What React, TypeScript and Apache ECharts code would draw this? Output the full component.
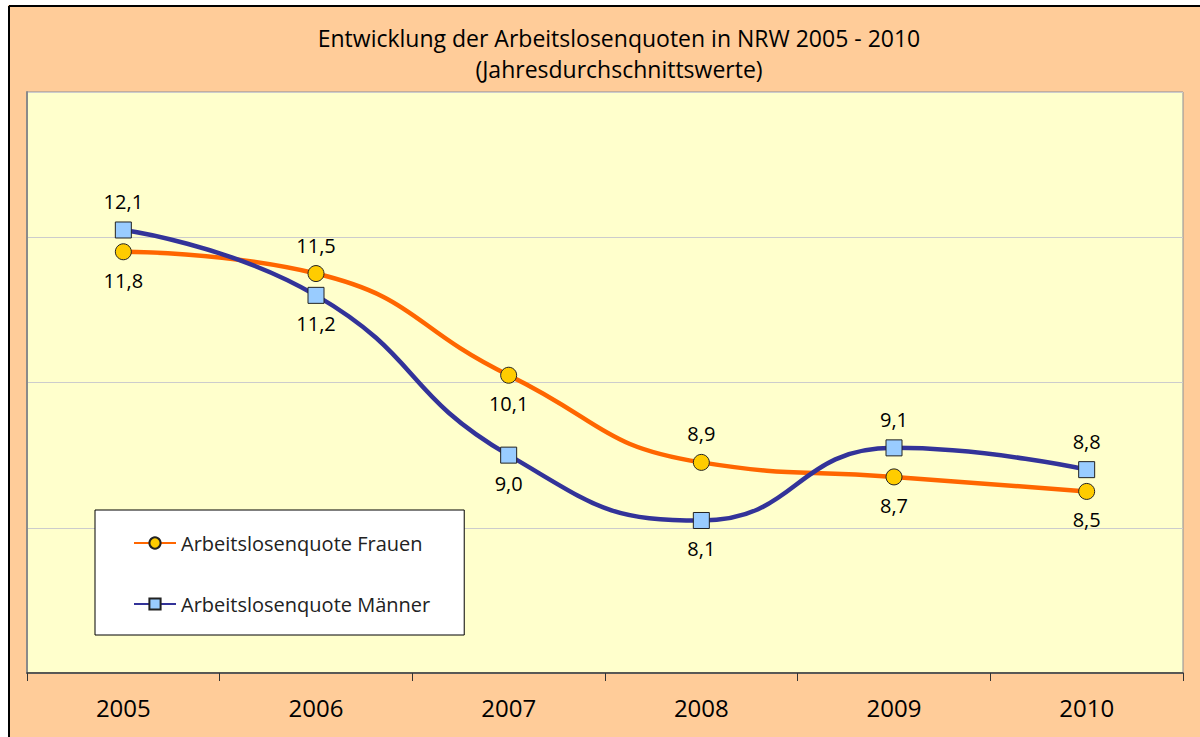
import React, { useEffect, useRef } from "react";
import * as echarts from "echarts";

const years = ["2005", "2006", "2007", "2008", "2009", "2010"];
const frauen = [11.8, 11.5, 10.1, 8.9, 8.7, 8.5];
const maenner = [12.1, 11.2, 9.0, 8.1, 9.1, 8.8];
const frauenLabelPos = ["bottom", "top", "bottom", "top", "bottom", "bottom"];
const maennerLabelPos = ["top", "bottom", "bottom", "bottom", "top", "top"];
const titleLines = ["Entwicklung der Arbeitslosenquoten in NRW 2005 - 2010", "(Jahresdurchschnittswerte)"];
const seriesNames = ["Arbeitslosenquote Frauen", "Arbeitslosenquote Männer"];

const FONT = "'Open Sans', 'Noto Sans', sans-serif";
const fmt = (v: number) => v.toFixed(1).replace(".", ",");

export default function App() {
  const ref = useRef<HTMLDivElement>(null);
  useEffect(() => {
    if (!ref.current) return;
    const chart = echarts.init(ref.current, null, { renderer: "svg" });
    const mk = (vals: number[], pos: string[]) =>
      vals.map((v, i) => ({ value: v, label: { position: pos[i] } }));
    chart.setOption({
      animation: false,
      backgroundColor: "#FFCC99",
      textStyle: { fontFamily: FONT },
      graphic: [
        { type: "rect", shape: { x: 0, y: 0, width: 1200, height: 5 }, style: { fill: "#fff" }, silent: true },
        { type: "rect", shape: { x: 0, y: 0, width: 8, height: 737 }, style: { fill: "#fff" }, silent: true },
        { type: "line", shape: { x1: 9, y1: 6, x2: 1200, y2: 6 }, style: { stroke: "#000", lineWidth: 2 }, silent: true },
        { type: "line", shape: { x1: 9, y1: 6, x2: 9, y2: 737 }, style: { stroke: "#000", lineWidth: 2 }, silent: true },
        {
          type: "text", x: 619, y: 38,
          style: { text: titleLines[0], fontSize: 23, fontFamily: FONT, fill: "#000", textAlign: "center", textVerticalAlign: "middle" },
        },
        {
          type: "text", x: 619, y: 69,
          style: { text: titleLines[1], fontSize: 23, fontFamily: FONT, fill: "#000", textAlign: "center", textVerticalAlign: "middle" },
        },
      ],
      grid: {
        left: 27, top: 92, right: 17, bottom: 64,
        show: true, backgroundColor: "#FFFFCC", borderColor: "#8a8f99", borderWidth: 1,
        containLabel: false,
      },
      legend: {
        orient: "vertical",
        left: 95, top: 510,
        backgroundColor: "#fff",
        borderColor: "#000", borderWidth: 1,
        padding: [23, 34, 21, 38],
        itemGap: 41,
        itemWidth: 42, itemHeight: 14,
        textStyle: { fontSize: 20, fontFamily: FONT, color: "#222", lineHeight: 20 },
        data: seriesNames,
      },
      xAxis: {
        type: "category",
        data: years,
        boundaryGap: true,
        axisLine: { lineStyle: { color: "#333", width: 1.5 } },
        axisTick: { show: true, length: 8, interval: 0, lineStyle: { color: "#333" } },
        axisLabel: { fontSize: 24, color: "#000", margin: 22, fontFamily: FONT },
        splitLine: { show: false },
      },
      yAxis: {
        type: "value",
        min: 6, max: 14, interval: 2,
        axisLine: { show: true, lineStyle: { color: "#8a8a8a", width: 2 } },
        axisTick: { show: false },
        axisLabel: { show: false },
        splitLine: { show: true, lineStyle: { color: "#cccccc", width: 1 } },
      },
      series: [
        {
          name: seriesNames[0],
          type: "line",
          smooth: 0.5,
          data: mk(frauen, frauenLabelPos),
          symbol: "circle",
          symbolSize: 16,
          lineStyle: { color: "#FF6600", width: 4.5 },
          itemStyle: { color: "#FFCC00", borderColor: "#222", borderWidth: 1 },
          label: { show: true, fontSize: 20, color: "#000", distance: 10, fontFamily: FONT, formatter: (p: any) => fmt(p.value) },
          z: 3,
        },
        {
          name: seriesNames[1],
          type: "line",
          smooth: 0.5,
          data: mk(maenner, maennerLabelPos),
          symbol: "rect",
          symbolSize: 16,
          lineStyle: { color: "#333399", width: 4.5 },
          itemStyle: { color: "#99CCFF", borderColor: "#222", borderWidth: 1 },
          label: { show: true, fontSize: 20, color: "#000", distance: 10, fontFamily: FONT, formatter: (p: any) => fmt(p.value) },
          z: 4,
        },
      ],
    });
    return () => chart.dispose();
  }, []);
  return (
    <div style={{ position: "absolute", left: 0, top: 0, width: 1200, height: 737 }}>
      <div ref={ref} style={{ width: 1200, height: 737 }} />
    </div>
  );
}
